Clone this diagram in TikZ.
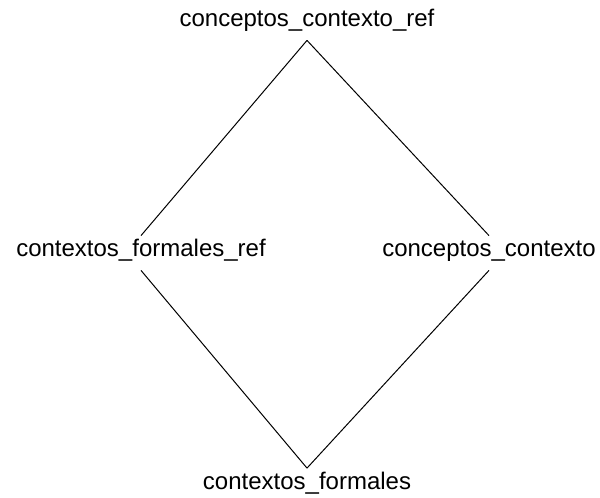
\documentclass[tikz,border=0pt]{standalone}
\usepackage{fontspec}
\setmainfont{Liberation Sans}
\begin{document}
\begin{tikzpicture}[x=0.5pt, y=-0.5pt,
  lbl/.style={inner xsep=1pt, inner ysep=0pt, text height=10.25pt, text depth=6.75pt,
              font=\fontsize{12}{14}\selectfont},
  edge/.style={draw=black, line width=0.5pt}]
  \useasboundingbox (0,0) rectangle (600,498);
  \node[lbl, anchor=base] (ref)    at (307,26.5)  {conceptos\_contexto\_ref};
  \node[lbl, anchor=base] (cfref)  at (141,256.5) {contextos\_formales\_ref};
  \node[lbl, anchor=base] (cc)     at (489,256.5) {conceptos\_contexto};
  \node[lbl, anchor=base] (cf)     at (307,489)   {contextos\_formales};
  \draw[edge] (ref.south) -- (cfref.north);
  \draw[edge] (ref.south) -- (cc.north);
  \draw[edge] (cfref.south) -- (cf.north);
  \draw[edge] (cc.south) -- (cf.north);
\end{tikzpicture}
\end{document}
